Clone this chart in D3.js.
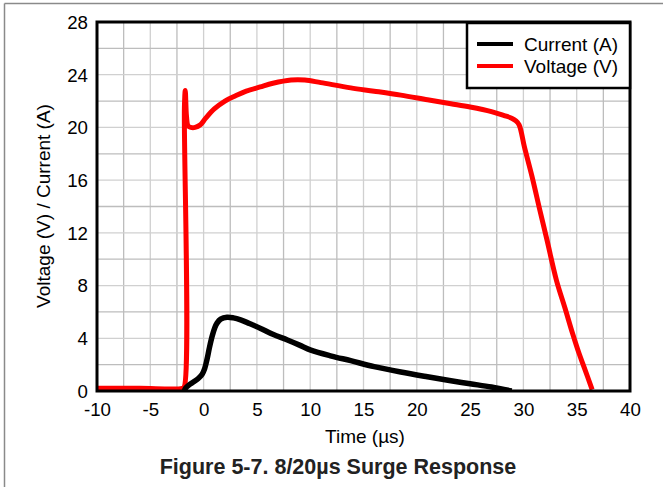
<!DOCTYPE html>
<html><head><meta charset="utf-8">
<script src="https://cdn.jsdelivr.net/npm/d3@7"></script>
<style>body{margin:0;background:#fff}svg{display:block;font-family:"Liberation Sans",Arial,sans-serif}</style>
</head><body>
<svg id="c" width="663" height="487"></svg>
<script>
const xTicks = [-10,-5,0,5,10,15,20,25,30,35,40];
const yTicks = [0,4,8,12,16,20,24,28];
const seriesNames = ["Current (A)", "Voltage (V)"];
const seriesColors = ["#000000", "#ff0000"];
const voltageT = [-10,-6,-2,-1.82,-1.8,-1.72,-1.6,-1.45,-1.2,-0.8,-0.3,0.2,1,2,3,4,5.3,6.5,8.2,9.5,11,13.8,16,18.5,21,23.2,25,27,28.2,28.9,29.3,29.6,30.1,30.8,31.55,32.2,33.1,33.9,34.6,35.2,35.7,36.45];
const voltageV = [0.2,0.2,0.2,0.3,21.5,22.8,20.8,20.1,20.0,20.0,20.2,20.7,21.4,22.0,22.4,22.75,23.07,23.35,23.6,23.6,23.4,23.0,22.75,22.45,22.1,21.8,21.55,21.2,20.9,20.7,20.5,20.2,18.5,16.3,13.7,11.5,8.4,6.3,4.4,2.9,1.8,0.1];
const currentT = [-1.8,-1.7,-1.3,-0.93,-0.5,-0.15,0.1,0.32,0.55,0.8,1.05,1.26,1.6,2.2,2.8,3.47,4.3,5.35,6.5,7.86,9,10.06,12,13.8,16,18.5,21,23.2,25,27,28.9];
const currentV = [0,0.2,0.5,0.7,0.95,1.25,1.7,2.4,3.3,4.15,4.8,5.15,5.45,5.6,5.55,5.4,5.12,4.75,4.3,3.87,3.48,3.1,2.65,2.3,1.85,1.44,1.08,0.78,0.55,0.3,0.0];

const svg = d3.select("#c");
const L=97, R=630, T=22, B=391;
const x = d3.scaleLinear().domain([-10,40]).range([L,R]);
const y = d3.scaleLinear().domain([0,28]).range([B,T]);

// outer frame
svg.append("line").attr("x1",4.5).attr("x2",663).attr("y1",3.5).attr("y2",3.5).attr("stroke","#8a8a8a").attr("stroke-width",1.5);
svg.append("line").attr("x1",4.5).attr("x2",4.5).attr("y1",3.5).attr("y2",487).attr("stroke","#8a8a8a").attr("stroke-width",1.5);

// grid
const gx = d3.range(-10,40.01,2.5), gy = d3.range(0,28.01,2);
svg.append("g").selectAll("line").data(gx).join("line")
  .attr("x1",d=>x(d)).attr("x2",d=>x(d)).attr("y1",T).attr("y2",B)
  .attr("stroke",(d,i)=>i%2?"#bdbdbd":"#d0d0d0").attr("stroke-width",1.3);
svg.append("g").selectAll("line").data(gy).join("line")
  .attr("y1",d=>y(d)).attr("y2",d=>y(d)).attr("x1",L).attr("x2",R)
  .attr("stroke",(d,i)=>i%2?"#bdbdbd":"#d0d0d0").attr("stroke-width",1.3);

// axes
const xa = svg.append("g").attr("transform",`translate(0,${B})`)
  .call(d3.axisBottom(x).tickValues(xTicks).tickSize(0).tickPadding(12).tickFormat(d=>d<0?"-"+Math.abs(d):d));
const ya = svg.append("g").attr("transform",`translate(${L},0)`)
  .call(d3.axisLeft(y).tickValues(yTicks).tickSize(0).tickPadding(9));
[xa,ya].forEach(a=>{a.select(".domain").remove();a.selectAll("text").attr("font-size",18.7).attr("font-family","Liberation Sans, Arial, sans-serif").attr("fill","#000");});
ya.selectAll("text").attr("dy","0.34em");

// series
const vData = voltageT.map((t,i)=>[t,voltageV[i]]);
const cData = currentT.map((t,i)=>[t,currentV[i]]);
svg.append("clipPath").attr("id","pc").append("rect").attr("x",L).attr("y",T).attr("width",R-L).attr("height",B-T);
const ln = d3.line().x(d=>x(d[0])).y(d=>y(d[1])).curve(d3.curveCatmullRom.alpha(0.5));
svg.append("path").datum(vData).attr("d",ln)
  .attr("fill","none").attr("stroke",seriesColors[1]).attr("stroke-width",5).attr("stroke-linejoin","round").attr("clip-path","url(#pc)");
svg.append("path").datum(cData).attr("d",ln)
  .attr("fill","none").attr("stroke",seriesColors[0]).attr("stroke-width",5.5).attr("stroke-linejoin","round").attr("clip-path","url(#pc)");

// plot border
svg.append("rect").attr("x",L).attr("y",T).attr("width",R-L).attr("height",B-T).attr("fill","none").attr("stroke","#000").attr("stroke-width",3);

// legend
const lg = svg.append("g");
lg.append("rect").attr("x",467).attr("y",23).attr("width",163).attr("height",65).attr("fill","#fff").attr("stroke","#000").attr("stroke-width",2.5);
seriesNames.forEach((n,i)=>{
  const yy = 44 + i*22;
  lg.append("line").attr("x1",477).attr("x2",513).attr("y1",yy).attr("y2",yy).attr("stroke",seriesColors[i]).attr("stroke-width",4);
  lg.append("text").attr("x",524).attr("y",yy+7).attr("font-size",19).text(n);
});

// labels
svg.append("text").attr("x",365).attr("y",443).attr("text-anchor","middle").attr("font-size",19).text("Time (µs)");
svg.append("text").attr("transform","translate(50,206) rotate(-90)").attr("text-anchor","middle").attr("font-size",19).text("Voltage (V) / Current (A)");
svg.append("text").attr("x",338).attr("y",474).attr("text-anchor","middle").attr("font-size",21.5).attr("font-weight","bold").attr("fill","#222").text("Figure 5-7. 8/20µs Surge Response");
</script>
</body></html>
